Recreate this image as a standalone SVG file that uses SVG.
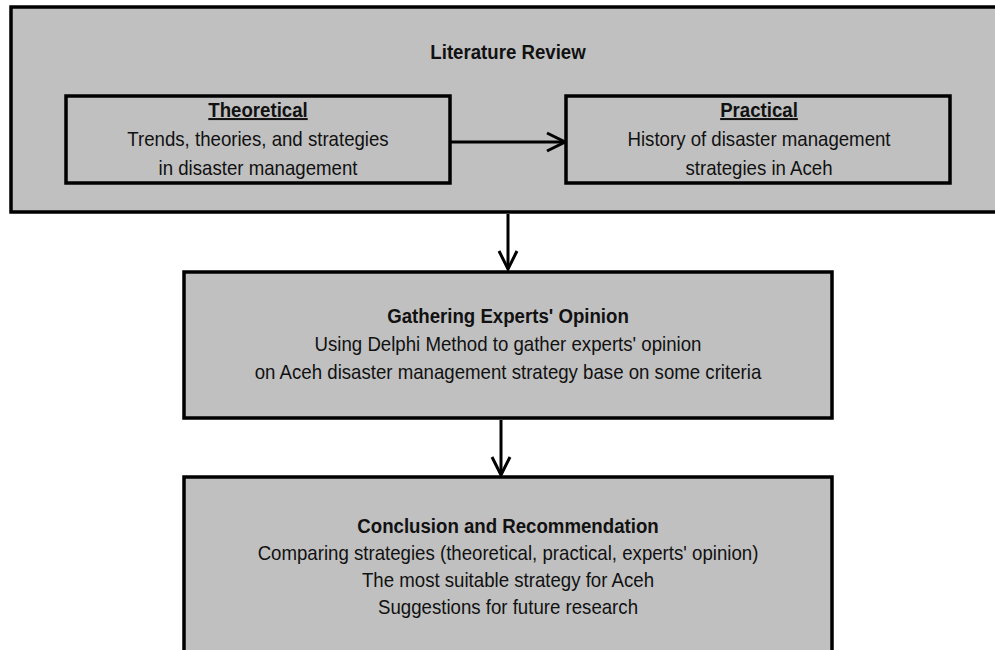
<svg xmlns="http://www.w3.org/2000/svg" width="995" height="650" viewBox="0 0 995 650">
  <defs>
    <style>
      .box { fill: #c0c0c0; stroke: #000; stroke-width: 3.5; }
      .wire { fill: none; stroke: #000; stroke-width: 3; }
      text { font-family: "Liberation Sans", Arial, sans-serif; font-size: 20.5px; fill: #111; text-anchor: middle; }
      .b { font-weight: bold; }
      .u { text-decoration: underline; }
    </style>
    <marker id="vee" viewBox="0 0 22 22" refX="20" refY="11" markerWidth="22" markerHeight="22" orient="auto" markerUnits="userSpaceOnUse">
      <path d="M2,2 L20,11 L2,20" fill="none" stroke="#000" stroke-width="3"/>
    </marker>
  </defs>
  <rect width="995" height="650" fill="#fff"/>

  <g id="literature-review">
    <rect class="box" x="11" y="7" width="1000" height="205"/>
    <g transform="translate(508,0) scale(0.91,1)">
      <text class="b" x="0" y="59">Literature Review</text>
    </g>
  </g>

  <g id="theoretical">
    <rect class="box" x="66" y="96" width="384" height="87"/>
    <g transform="translate(258,0) scale(0.91,1)">
      <text class="b u" x="0" y="117">Theoretical</text>
      <text x="0" y="146">Trends, theories, and strategies</text>
      <text x="0" y="175">in disaster management</text>
    </g>
  </g>

  <g id="practical">
    <rect class="box" x="566" y="96" width="384" height="87"/>
    <g transform="translate(759,0) scale(0.91,1)">
      <text class="b u" x="0" y="117">Practical</text>
      <text x="0" y="146">History of disaster management</text>
      <text x="0" y="175">strategies in Aceh</text>
    </g>
  </g>

  <g id="experts-opinion">
    <rect class="box" x="184" y="272" width="648" height="146"/>
    <g transform="translate(508,0) scale(0.91,1)">
      <text class="b" x="0" y="323">Gathering Experts' Opinion</text>
      <text x="0" y="351">Using Delphi Method to gather experts' opinion</text>
      <text x="0" y="379">on Aceh disaster management strategy base on some criteria</text>
    </g>
  </g>

  <g id="conclusion">
    <rect class="box" x="184" y="477" width="648" height="200"/>
    <g transform="translate(508,0) scale(0.91,1)">
      <text class="b" x="0" y="533">Conclusion and Recommendation</text>
      <text x="0" y="560">Comparing strategies (theoretical, practical, experts' opinion)</text>
      <text x="0" y="587">The most suitable strategy for Aceh</text>
      <text x="0" y="614">Suggestions for future research</text>
    </g>
  </g>

  <g id="connectors">
    <path class="wire" d="M450,142 H565" marker-end="url(#vee)"/>
    <path class="wire" d="M508,214 V269" marker-end="url(#vee)"/>
    <path class="wire" d="M501,420 V475" marker-end="url(#vee)"/>
  </g>
</svg>
